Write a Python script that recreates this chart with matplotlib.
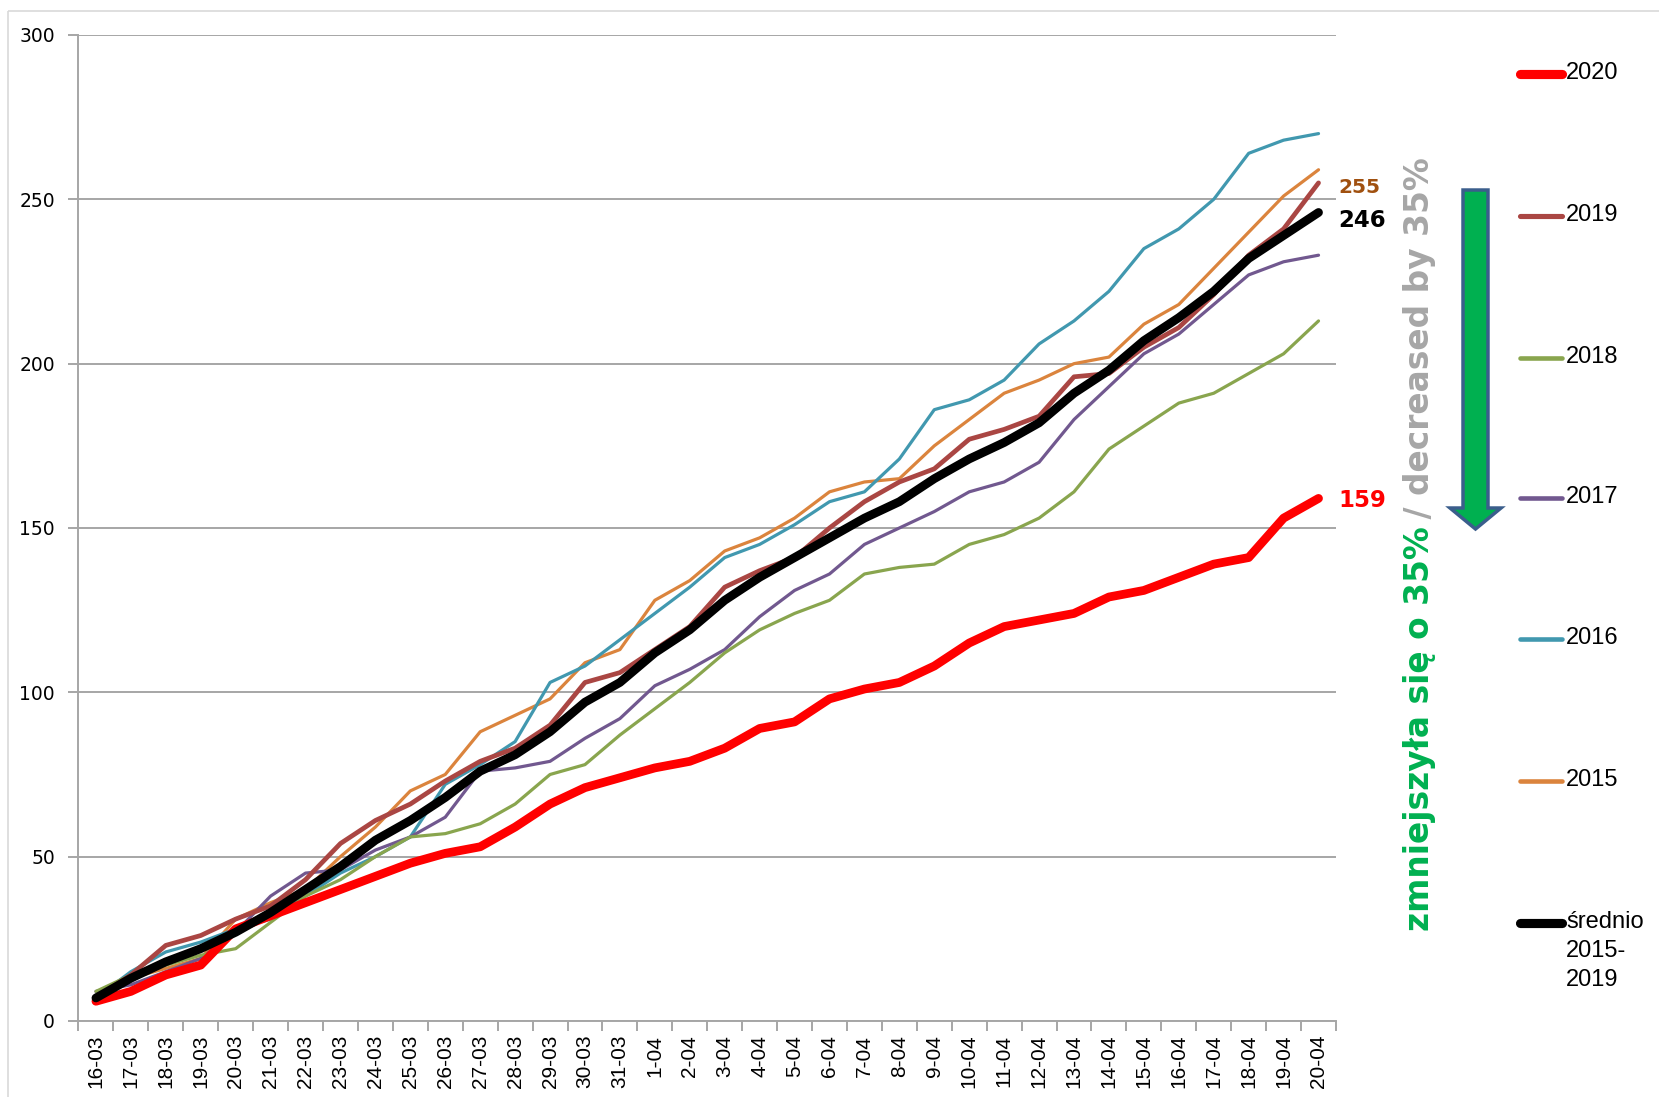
import matplotlib.pyplot as plt
from matplotlib.patches import Polygon, Rectangle

dates = ['16-03', '17-03', '18-03', '19-03', '20-03', '21-03', '22-03', '23-03',
         '24-03', '25-03', '26-03', '27-03', '28-03', '29-03', '30-03', '31-03',
         '1-04', '2-04', '3-04', '4-04', '5-04', '6-04', '7-04', '8-04', '9-04',
         '10-04', '11-04', '12-04', '13-04', '14-04', '15-04', '16-04', '17-04',
         '18-04', '19-04', '20-04']

y2020 = [6, 9, 14, 17, 28, 32, 36, 40, 44, 48, 51, 53, 59, 66, 71, 74, 77, 79,
         83, 89, 91, 98, 101, 103, 108, 115, 120, 122, 124, 129, 131, 135, 139,
         141, 153, 159]
y2019 = [7, 14, 23, 26, 31, 35, 43, 54, 61, 66, 73, 79, 83, 90, 103, 106, 113,
         120, 132, 137, 141, 150, 158, 164, 168, 177, 180, 184, 196, 197, 205,
         211, 221, 233, 241, 255]
y2018 = [9, 14, 17, 20, 22, 30, 38, 43, 50, 56, 57, 60, 66, 75, 78, 87, 95, 103,
         112, 119, 124, 128, 136, 138, 139, 145, 148, 153, 161, 174, 181, 188,
         191, 197, 203, 213]
y2017 = [9, 11, 15, 19, 27, 38, 45, 46, 52, 56, 62, 76, 77, 79, 86, 92, 102, 107,
         113, 123, 131, 136, 145, 150, 155, 161, 164, 170, 183, 193, 203, 209,
         218, 227, 231, 233]
y2016 = [7, 15, 21, 24, 28, 31, 38, 45, 50, 56, 72, 78, 85, 103, 108, 116, 124,
         132, 141, 145, 151, 158, 161, 171, 186, 189, 195, 206, 213, 222, 235,
         241, 250, 264, 268, 270]
y2015 = [6, 13, 16, 19, 31, 36, 40, 50, 59, 70, 75, 88, 93, 98, 109, 113, 128,
         134, 143, 147, 153, 161, 164, 165, 175, 183, 191, 195, 200, 202, 212,
         218, 229, 240, 251, 259]
avg = [7, 13, 18, 22, 27, 33, 40, 47, 55, 61, 68, 76, 81, 88, 97, 103, 112, 119,
       128, 135, 141, 147, 153, 158, 165, 171, 176, 182, 191, 198, 207, 214,
       222, 232, 239, 246]

labels = ['2020', '2019', '2018', '2017', '2016', '2015', 'średnio\n2015-\n2019']

W, H = 1659, 1097
fig = plt.figure(figsize=(W / 100, H / 100), dpi=100)
ax = fig.add_axes([0.0473, 0.0693, 0.758, 0.8988])

x = list(range(len(dates)))
grey = '#A6A6A6'
# thin lines first, then the thick ones on top
series = [
    (y2015, '#DB843D', 2.3, labels[5]),
    (y2016, '#4198AF', 2.3, labels[4]),
    (y2017, '#71588F', 2.3, labels[3]),
    (y2018, '#89A54E', 2.3, labels[2]),
    (y2019, '#AA4643', 3.4, labels[1]),
    (y2020, '#FF0000', 6.3, labels[0]),
    (avg, '#000000', 6.3, labels[6]),
]
for vals, col, lw, lab in series:
    ax.plot(x, vals, color=col, lw=lw, solid_capstyle='round',
            solid_joinstyle='round', label=lab)

ax.set_xlim(-0.5, len(dates) - 0.5)
ax.set_ylim(0, 300)
ax.set_yticks(range(0, 301, 50))
ax.yaxis.grid(True, color=grey, lw=1.4)
ax.set_axisbelow(True)
for s in ['top', 'right']:
    ax.spines[s].set_visible(False)
for s in ['left', 'bottom']:
    ax.spines[s].set_color(grey)
    ax.spines[s].set_linewidth(1.4)

ax.set_xticks(x)
ax.set_xticklabels(dates, rotation=90, fontsize=15, family='Liberation Sans')
ax.set_xticks([i + 0.5 for i in range(-1, len(dates))], minor=True)
ax.tick_params(axis='x', which='major', length=0, pad=10)
ax.tick_params(axis='x', which='minor', length=7, color=grey, width=1.4)
ax.tick_params(axis='y', length=7, color=grey, width=1.4, pad=10,
               labelsize=13.5, labelfontfamily='DejaVu Sans')

# end values
ax.annotate(str(y2019[-1]), xy=(x[-1], y2019[-1]), xytext=(20, -5),
            textcoords='offset pixels', va='center', ha='left',
            fontsize=14.5, fontweight='bold', color='#A0500F')
ax.annotate(str(avg[-1]), xy=(x[-1], avg[-1]), xytext=(20, -8),
            textcoords='offset pixels', va='center', ha='left',
            fontsize=16.5, fontweight='bold', color='black')
ax.annotate(str(y2020[-1]), xy=(x[-1], y2020[-1]), xytext=(20, -2),
            textcoords='offset pixels', va='center', ha='left',
            fontsize=16.5, fontweight='bold', color='#FF0000')

# overlay in pixel coordinates (y down) for legend, arrow and side text
ov = fig.add_axes([0, 0, 1, 1], facecolor='none')
ov.set_xlim(0, W)
ov.set_ylim(H, 0)
ov.axis('off')

ov.add_patch(Rectangle((8, 11), W, H, fill=False, ec='#D9D9D9', lw=1.2))

leg_y = [74, 216, 358, 498, 639, 781, 923]
leg = {lab: (col, lw) for vals, col, lw, lab in series}
for yy, lab in zip(leg_y, labels):
    col, lw = leg[lab]
    ov.plot([1520, 1562], [yy, yy], color=col, lw=max(lw, 3.0) + 0.3,
            solid_capstyle='round')
    ov.text(1566, yy - 12, lab, ha='left', va='top', fontsize=17,
            family='Liberation Sans', linespacing=1.4)

# arrow
pts = [(1463, 190), (1488, 190), (1488, 508), (1501, 508), (1475.5, 529),
       (1450, 508), (1463, 508)]
ov.add_patch(Polygon(pts, closed=True, fc='#00B050', ec='#3B5E8C', lw=2.5,
                     joinstyle='miter'))

# rotated text: green part sized to its length in the reference, grey after it
size = 24
t1 = ov.text(1420, 931, 'zmniejszyła się o 35%', rotation=90, ha='center',
             va='bottom', fontsize=size, fontweight='bold', color='#00B050')
fig.canvas.draw()
bb = t1.get_window_extent()
size = size * 405 / bb.height
t1.set_fontsize(size)
fig.canvas.draw()
bb = t1.get_window_extent()
top = H - bb.y1
ov.text(1420, top + 4, ' / decreased by 35%', rotation=90, ha='center',
        va='bottom', fontsize=size, fontweight='bold', color='#A6A6A6')

fig.savefig('out.png', dpi=100)
